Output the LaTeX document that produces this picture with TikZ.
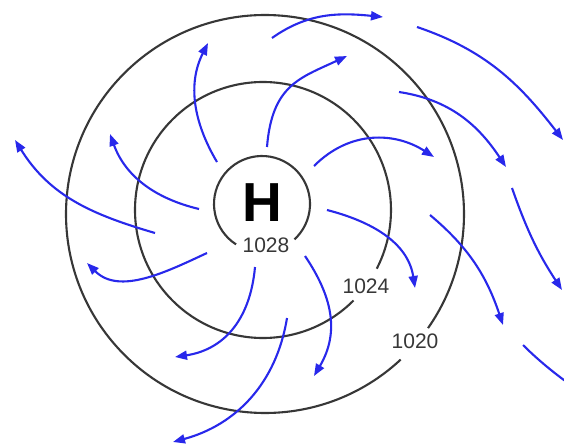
\documentclass[tikz,border=0pt]{standalone}
\usepackage{fontspec}
\setmainfont{Liberation Sans}
\usetikzlibrary{arrows.meta}
\definecolor{windblue}{RGB}{40,40,235}
\definecolor{isogray}{RGB}{55,55,55}
\begin{document}
\begin{tikzpicture}[x=1pt,y=-1pt,
  wind/.style={windblue, line width=2.1pt, -{Triangle[length=12pt,width=9pt]}},
  isobar/.style={isogray, line width=2.1pt},
  plabel/.style={text=isogray, font=\fontsize{21}{24}\selectfont, inner sep=0pt},
]
\fill[white] (0,0) rectangle (564,446);
\useasboundingbox (0,0) rectangle (564,446);

% isobars (with gaps for labels)
\draw[isobar] ([shift={(122.7:48)}]262,204) arc[start angle=122.7, end angle=407.5, radius=48];
\draw[isobar] ([shift={(45:128)}]263,210) arc[start angle=45, end angle=387.3, radius=128];
\draw[isobar] ([shift={(47:199)}]265,214) arc[start angle=47, end angle=395, radius=199];

% labels
\node[font=\bfseries\fontsize{55}{60}\selectfont, inner sep=0pt] (H) at (262,203) {H};
\node[plabel] (p1028) at (266,245) {1028};
\node[plabel] (p1024) at (366,286) {1024};
\node[plabel] (p1020) at (415,341) {1020};

% winds
\draw[wind] (217,162) .. controls (193.5,122.4) and (187.3,84) .. (208,43);
\draw[wind] (199,209) .. controls (155.3,198.6) and (125.3,176.3) .. (110,134);
\draw[wind] (155,233) .. controls (91.6,214.5) and (50,196) .. (15,140);
\draw[wind] (267,147) .. controls (272,85) and (300,78) .. (347,56);
\draw[wind] (272,38) .. controls (308,12.5) and (339,12.6) .. (383,17);
\draw[wind] (314,166) .. controls (350,130) and (395,132) .. (434,157);
\draw[wind] (399,92) .. controls (449.5,99.6) and (478,124.7) .. (506,167);
\draw[wind] (417,27) .. controls (485,50) and (519,83) .. (563,140);
\draw[wind] (512,188) .. controls (526.5,229.4) and (538,253.5) .. (562,290);
\draw[wind] (430,215) .. controls (469,247.6) and (486.7,276.5) .. (503,325);
\draw[wind] (327,210) .. controls (371.6,221.5) and (408,242.5) .. (415,288);
\draw[wind] (523,345) .. controls (540,362) and (560,378) .. (590,398);
\draw[wind] (305,256) .. controls (332,296) and (340,332) .. (314,376);
\draw[wind] (255,267) .. controls (250,322) and (222,350) .. (175,357);
\draw[wind] (207,253) .. controls (165.6,272.3) and (119.2,295.2) .. (87,263);
\draw[wind] (287,318) .. controls (276.4,383) and (236.4,424.8) .. (173,442);
\end{tikzpicture}
\end{document}
